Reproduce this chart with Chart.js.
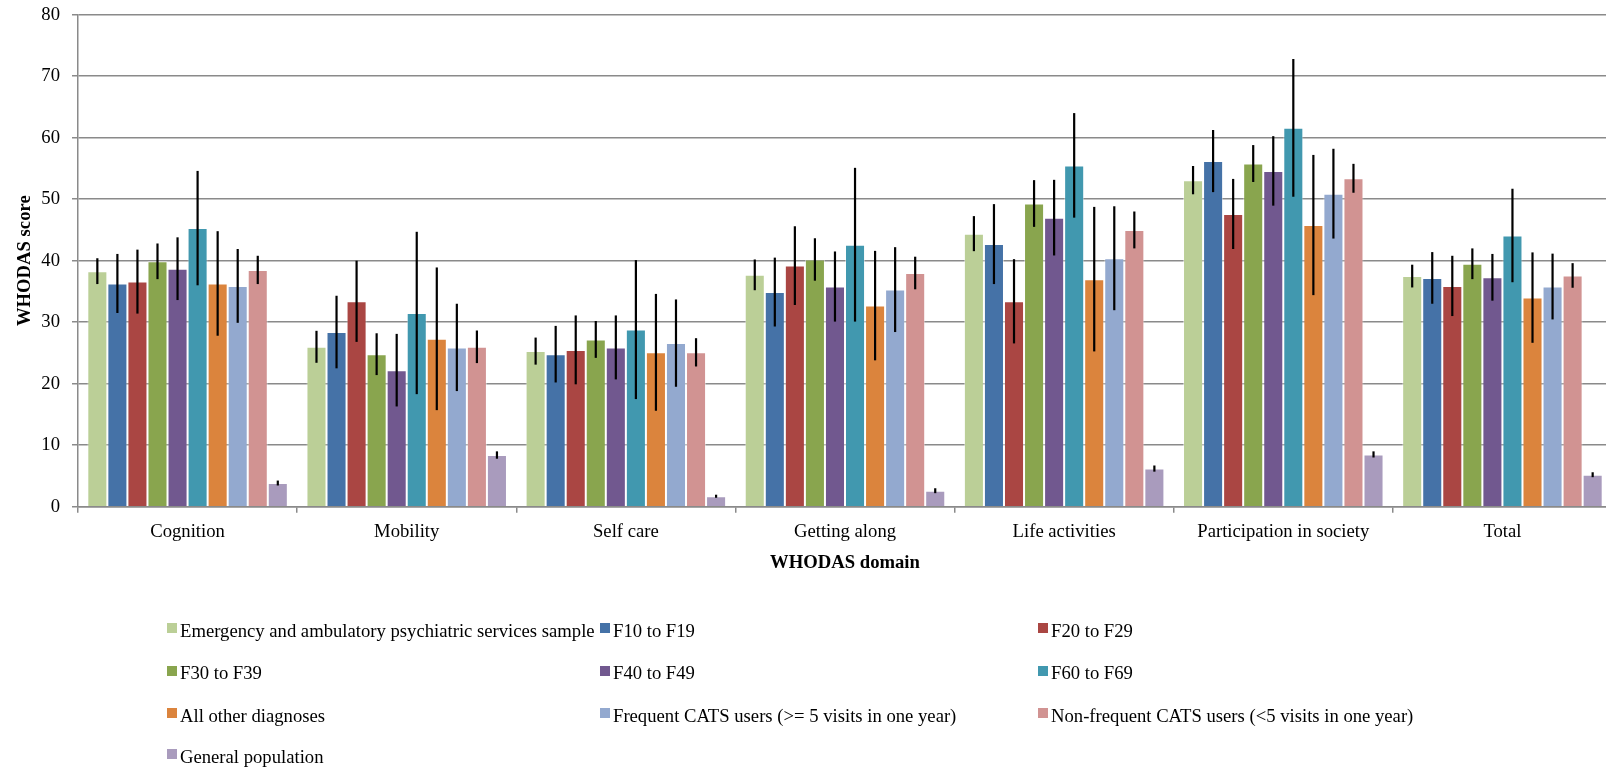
<!DOCTYPE html>
<html>
<head>
<meta charset="utf-8">
<script src="https://cdn.jsdelivr.net/npm/chart.js@4/dist/chart.umd.min.js"></script>
<style>
  html, body { margin: 0; padding: 0; background: #fff; overflow: hidden; width: 1606px; height: 768px; }
  #wrap { position: absolute; left: 0; top: 0; width: 1616px; height: 768px; }
  #legend { position: absolute; left: 0; top: 0; width: 1606px; height: 768px; pointer-events: none;
            font-family: "Liberation Serif", "Times New Roman", serif; font-size: 18.67px; color: #000; }
  .item { position: absolute; display: flex; align-items: flex-start; white-space: nowrap; line-height: 20px; height: 20px; }
  .sw { width: 10px; height: 10px; margin-top: 2.5px; margin-right: 3px; flex: none; }
</style>
</head>
<body>
<div id="wrap"><canvas id="c"></canvas></div>
<div id="legend"></div>
<script>
// WHODAS domains on the x axis
const domains = ['Cognition', 'Mobility', 'Self care', 'Getting along', 'Life activities', 'Participation in society', 'Total'];
const yTicks = [0, 10, 20, 30, 40, 50, 60, 70, 80];

// Group names
const groups = [
  'Emergency and ambulatory psychiatric services sample',
  'F10 to F19',
  'F20 to F29',
  'F30 to F39',
  'F40 to F49',
  'F60 to F69',
  'All other diagnoses',
  'Frequent CATS users (>= 5 visits in one year)',
  'Non-frequent CATS users (<5 visits in one year)',
  'General population'
];

// Mean WHODAS scores per group, one value per domain
const emergencySample = [38.3, 26.0, 25.3, 37.7, 44.4, 53.1, 37.5];
const f10to19        = [36.3, 28.4, 24.8, 34.9, 42.7, 56.2, 37.2];
const f20to29        = [36.6, 33.4, 25.5, 39.2, 33.4, 47.6, 35.9];
const f30to39        = [39.9, 24.8, 27.2, 40.2, 49.3, 55.8, 39.5];
const f40to49        = [38.7, 22.2, 25.9, 35.8, 47.0, 54.6, 37.3];
const f60to69        = [45.3, 31.5, 28.8, 42.6, 55.5, 61.6, 44.1];
const otherDiagnoses = [36.3, 27.3, 25.1, 32.7, 37.0, 45.8, 34.0];
const frequentCats   = [35.9, 25.9, 26.6, 35.3, 40.4, 50.9, 35.8];
const nonFrequentCats= [38.5, 26.0, 25.1, 38.0, 45.0, 53.4, 37.6];
const generalPop     = [3.85, 8.4, 1.7, 2.6, 6.2, 8.5, 5.2];

// Half-widths of the 95% confidence intervals
const emergencySampleCI = [2.1, 2.6, 2.2, 2.5, 2.85, 2.3, 1.85];
const f10to19CI         = [4.8, 5.9, 4.6, 5.6, 6.5, 5.05, 4.2];
const f20to29CI         = [5.2, 6.6, 5.6, 6.4, 6.85, 5.7, 4.9];
const f30to39CI         = [2.9, 3.4, 3.0, 3.45, 3.8, 3.0, 2.5];
const f40to49CI         = [5.1, 5.9, 5.2, 5.7, 6.15, 5.65, 3.8];
const f60to69CI         = [9.3, 13.2, 11.3, 12.5, 8.5, 11.2, 7.6];
const otherDiagnosesCI  = [8.5, 11.6, 9.5, 8.9, 11.75, 11.4, 7.35];
const frequentCatsCI    = [6.0, 7.1, 7.1, 6.9, 8.45, 7.3, 5.35];
const nonFrequentCatsCI = [2.3, 2.65, 2.3, 2.65, 3.0, 2.35, 2.0];
const generalPopCI      = [0.4, 0.6, 0.25, 0.4, 0.5, 0.5, 0.4];

const seriesValues = [emergencySample, f10to19, f20to29, f30to39, f40to49, f60to69, otherDiagnoses, frequentCats, nonFrequentCats, generalPop];
const seriesCI = [emergencySampleCI, f10to19CI, f20to29CI, f30to39CI, f40to49CI, f60to69CI, otherDiagnosesCI, frequentCatsCI, nonFrequentCatsCI, generalPopCI];
const colors = ['#BBCF97', '#4572A7', '#AA4643', '#89A54E', '#71588F', '#4198AF', '#DB843D', '#93A9CF', '#D19392', '#A99BBD'];

const SERIF = '"Liberation Serif", "Times New Roman", serif';
const GRID = '#8a8a8a';

const datasets = groups.map((name, i) => ({
  label: name,
  data: seriesValues[i],
  ci: seriesCI[i],
  backgroundColor: colors[i],
  borderColor: 'rgba(255,255,255,0.45)',
  borderWidth: 1,
  categoryPercentage: 0.915,
  barPercentage: 1.0
}));

// Draws vertical confidence-interval lines through the centre of each bar
const errorBars = {
  id: 'errorBars',
  afterDatasetsDraw(chart) {
    const ctx = chart.ctx;
    const y = chart.scales.y;
    ctx.save();
    ctx.strokeStyle = '#000';
    ctx.lineWidth = 2.2;
    chart.data.datasets.forEach((ds, i) => {
      const meta = chart.getDatasetMeta(i);
      meta.data.forEach((bar, j) => {
        const v = ds.data[j], e = ds.ci[j];
        ctx.beginPath();
        ctx.moveTo(bar.x, y.getPixelForValue(v + e));
        ctx.lineTo(bar.x, y.getPixelForValue(v - e));
        ctx.stroke();
      });
    });
    ctx.restore();
  }
};

new Chart(document.getElementById('c'), {
  type: 'bar',
  data: { labels: domains, datasets },
  options: {
    responsive: true,
    maintainAspectRatio: false,
    animation: false,
    layout: { padding: { top: 14.7, right: 4, bottom: 189.3, left: 0 } },
    plugins: { legend: { display: false }, tooltip: { enabled: false } },
    scales: {
      x: {
        grid: { offset: true, drawOnChartArea: false, drawTicks: true, tickLength: 6, color: GRID, lineWidth: 1.5 },
        border: { color: GRID, width: 1.5 },
        ticks: { color: '#000', font: { family: SERIF, size: 18.67 }, padding: 8, maxRotation: 0 },
        title: { display: true, text: 'WHODAS domain', color: '#000',
                 font: { family: SERIF, size: 18.67, weight: 'bold' }, padding: { top: 0, bottom: 4.4 } },
        afterFit(scale) { scale.height = 72; }
      },
      y: {
        min: yTicks[0],
        max: yTicks[yTicks.length - 1],
        afterBuildTicks(scale) { scale.ticks = yTicks.map(v => ({ value: v })); },
        grid: { color: GRID, lineWidth: 1.5, tickLength: 6 },
        border: { color: GRID, width: 1.5 },
        ticks: { color: '#000', font: { family: SERIF, size: 18.67 }, padding: 12 },
        title: { display: true, text: 'WHODAS score', color: '#000',
                 font: { family: SERIF, size: 18.67, weight: 'bold' }, padding: { top: 13.8, bottom: 0 } },
        afterFit(scale) {
          scale.width = 78;
          scale.paddingTop = 4;
          scale.paddingBottom = 4;
        }
      }
    }
  },
  plugins: [errorBars]
});

// Legend laid out in three columns beneath the chart
const legendCols = [167, 600, 1038];
const legendBaselines = [637, 679.5, 722, 763];
const legend = document.getElementById('legend');
groups.forEach((name, i) => {
  const item = document.createElement('div');
  item.className = 'item';
  item.style.left = legendCols[i % 3] + 'px';
  item.style.top = (legendBaselines[Math.floor(i / 3)] - 16.3) + 'px';
  const sw = document.createElement('span');
  sw.className = 'sw';
  sw.style.background = colors[i];
  const txt = document.createElement('span');
  txt.textContent = name;
  item.appendChild(sw);
  item.appendChild(txt);
  legend.appendChild(item);
});
</script>
</body>
</html>
